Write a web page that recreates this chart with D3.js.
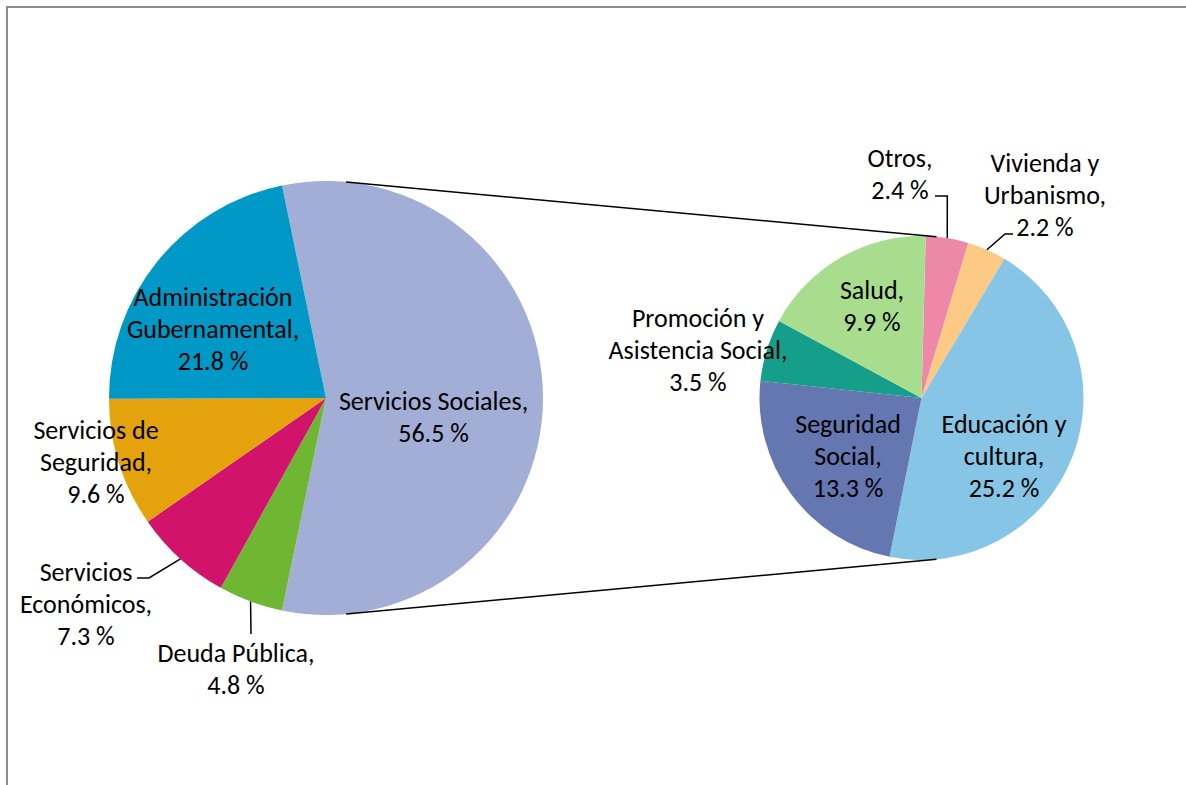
<!DOCTYPE html>
<html>
<head>
<meta charset="utf-8">
<script src="https://cdn.jsdelivr.net/npm/d3@7"></script>
<style>
  html, body { margin: 0; padding: 0; background: #ffffff; }
  svg { display: block; }
  text { font-family: Carlito, Calibri, Lato, "Open Sans", sans-serif; fill: #000; }
</style>
</head>
<body>
<svg id="chart" width="1186" height="785"></svg>
<script>
// ---------- DATA ----------
const mainCategories = ["Servicios Sociales", "Deuda Pública", "Servicios\nEconómicos", "Servicios de\nSeguridad", "Administración\nGubernamental"];
const mainValues = [56.5, 4.8, 7.3, 9.6, 21.8];
const subCategories = ["Otros", "Vivienda y\nUrbanismo", "Educación y\ncultura", "Seguridad\nSocial", "Promoción y\nAsistencia Social", "Salud"];
const subValues = [2.4, 2.2, 25.2, 13.3, 3.5, 9.9];

// ---------- STYLE / LAYOUT ----------
const mainColors = ["#A3AED7", "#6FB733", "#D2136B", "#E4A30C", "#0098C6"];
const subColors = ["#EE88A8", "#FDCA85", "#86C5E5", "#6577B0", "#159F8A", "#A9DD8E"];

const W = 1186, H = 785;
const cy = 398;
const leftCx = 326, leftR = 217;
const rightCx = 921.5, rightR = 162;
const fontSize = 26, lineGap = 32;

// label block centers as offsets from their pie's centre
const mainLabelPos = [[107.5, 19], [-90, 271], [-240, 206], [-230, 64], [-113, -69]];
const subLabelPos = [[-21.5, -224.5], [123.5, -203], [82.5, 58], [-73.5, 58], [-223.5, -48], [-49.5, -92]];
// leader polylines (offsets from pie centre), ending at the slice's outer mid-point
const mainLeaders = {1: [[-75, 236]], 2: [[-189, 180], [-177, 180]]};
const subLeaders = {0: [[13.5, -202], [25.8, -202]], 1: [[91.5, -164], [83.5, -164]]};
const subRotation = 1.5 * Math.PI / 180;

// ---------- DRAW ----------
const svg = d3.select("#chart");
const fmt = v => d3.format(".1f")(v) + " %";

// frame
svg.append("rect").attr("x", 7).attr("y", 7).attr("width", W + 20).attr("height", H + 20)
  .attr("fill", "none").attr("stroke", "#8c8c8c").attr("stroke-width", 2);

const total = d3.sum(mainValues);
const otherShare = mainValues[0] / total;
const mainStart = Math.PI / 2 - otherShare * Math.PI;

const mainPie = d3.pie().sort(null).value(d => d)
  .startAngle(mainStart).endAngle(mainStart + 2 * Math.PI);
const subPie = d3.pie().sort(null).value(d => d)
  .startAngle(subRotation).endAngle(subRotation + 2 * Math.PI);

const mainArcs = mainPie(mainValues);
const subArcs = subPie(subValues);

const mainArc = d3.arc().innerRadius(0).outerRadius(leftR);
const subArc = d3.arc().innerRadius(0).outerRadius(rightR);

const gL = svg.append("g").attr("transform", `translate(${leftCx},${cy})`);
const gR = svg.append("g").attr("transform", `translate(${rightCx},${cy})`);

gL.selectAll("path").data(mainArcs).join("path")
  .attr("d", mainArc).attr("fill", (d, i) => mainColors[i]);
gR.selectAll("path").data(subArcs).join("path")
  .attr("d", subArc).attr("fill", (d, i) => subColors[i]);

// connector lines: external tangents of the two pies
const dist = rightCx - leftCx;
const phi = Math.asin((leftR - rightR) / dist);
[-1, 1].forEach(s => {
  svg.append("line")
    .attr("x1", leftCx + leftR * Math.sin(phi)).attr("y1", cy + s * leftR * Math.cos(phi))
    .attr("x2", rightCx + rightR * Math.sin(phi)).attr("y2", cy + s * rightR * Math.cos(phi))
    .attr("stroke", "#000").attr("stroke-width", 1.5);
});

// leader lines
function drawLeaders(g, arcs, r, leaders) {
  Object.keys(leaders).forEach(k => {
    const a = arcs[+k];
    const mid = (a.startAngle + a.endAngle) / 2;
    const pts = leaders[k].concat([[r * Math.sin(mid), -r * Math.cos(mid)]]);
    g.append("path").attr("d", d3.line()(pts))
      .attr("fill", "none").attr("stroke", "#000").attr("stroke-width", 1.5);
  });
}
drawLeaders(gL, mainArcs, leftR, mainLeaders);
drawLeaders(gR, subArcs, rightR, subLeaders);

// labels
function drawLabels(g, cats, vals, pos) {
  cats.forEach((c, i) => {
    const lines = c.split("\n");
    lines[lines.length - 1] += ",";
    lines.push(fmt(vals[i]));
    const n = lines.length;
    const t = g.append("text").attr("text-anchor", "middle").style("font-size", fontSize + "px");
    lines.forEach((ln, j) => {
      t.append("tspan").attr("x", pos[i][0])
        .attr("y", pos[i][1] + (j - (n - 1) / 2) * lineGap)
        .attr("dy", "0.35em").text(ln);
    });
  });
}
drawLabels(gL, mainCategories, mainValues, mainLabelPos);
drawLabels(gR, subCategories, subValues, subLabelPos);
</script>
</body>
</html>
